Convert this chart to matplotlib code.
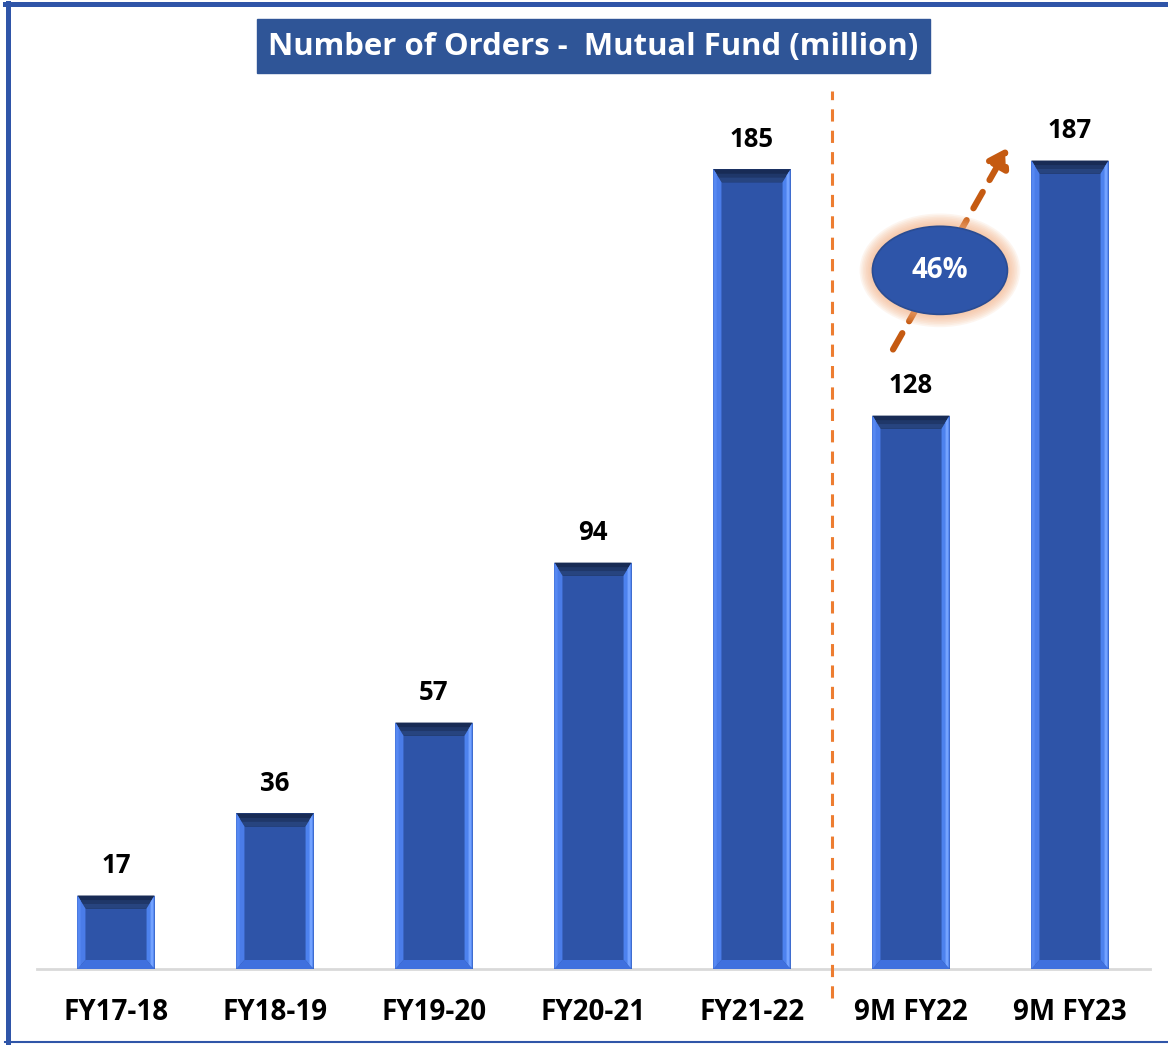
import matplotlib
matplotlib.use("Agg")
import matplotlib.pyplot as plt
from matplotlib.patches import Polygon, Ellipse, Rectangle
from matplotlib.lines import Line2D

categories = ["FY17-18", "FY18-19", "FY19-20", "FY20-21", "FY21-22", "9M FY22", "9M FY23"]
values = [17, 36, 57, 94, 185, 128, 187]
title = "Number of Orders -  Mutual Fund (million)"
growth_label = "46%"

W, H = 1168, 1045
fig = plt.figure(figsize=(W / 100, H / 100), dpi=100)
FONT = ["Open Sans", "DejaVu Sans"]

ax = fig.add_axes([36.5 / W, 76 / H, 1113 / W, 869 / H])
ax.set_xlim(-0.5, len(categories) - 0.5)
ax.set_ylim(0, 201)
ax.axis("off")

face = "#2E54A8"
bars = ax.bar(range(len(values)), values, width=0.485, color=face, edgecolor="none", zorder=2)

# bevel effect, sizes in pixels converted to data units
px_x = 1.0 / 159.0
px_y = 1.0 / 4.32
bx = 8 * px_x
by_top = 13 * px_y
by_bot = 9 * px_y
for b in bars:
    x0 = b.get_x(); x1 = x0 + b.get_width(); h = b.get_height()
    # top bevel (dark, graded)
    ax.add_patch(Polygon([[x0, h], [x1, h], [x1 - bx, h - by_top], [x0 + bx, h - by_top]],
                         closed=True, color="#182B55", lw=0, zorder=3))
    for f, col in [(0.35, "#1F3769"), (0.65, "#27447F")]:
        ax.add_patch(Polygon([[x0 + bx * f, h - by_top * f], [x1 - bx * f, h - by_top * f],
                              [x1 - bx, h - by_top], [x0 + bx, h - by_top]],
                             closed=True, color=col, lw=0, zorder=3))
    # left bevel
    ax.add_patch(Polygon([[x0, h], [x0 + bx, h - by_top], [x0 + bx, by_bot], [x0, 0]],
                         closed=True, color="#4A7CE8", lw=0, zorder=3))
    ax.add_patch(Polygon([[x0, h], [x0 + bx * 0.4, h - by_top * 0.4], [x0 + bx * 0.4, by_bot * 0.4], [x0, 0]],
                         closed=True, color="#5688F2", lw=0, zorder=3))
    # right bevel
    ax.add_patch(Polygon([[x1, h], [x1 - bx, h - by_top], [x1 - bx, by_bot], [x1, 0]],
                         closed=True, color="#4D82EE", lw=0, zorder=3))
    ax.add_patch(Polygon([[x1 - bx * 0.5, h - by_top * 0.5], [x1 - bx * 0.15, h - by_top * 0.15],
                          [x1 - bx * 0.15, by_bot * 0.15], [x1 - bx * 0.5, by_bot * 0.5]],
                         closed=True, color="#74A3FF", lw=0, zorder=3))
    # bottom bevel
    ax.add_patch(Polygon([[x0, 0], [x1, 0], [x1 - bx, by_bot], [x0 + bx, by_bot]],
                         closed=True, color="#3F70DE", lw=0, zorder=3))
    # value label
    ax.text(b.get_x() + b.get_width() / 2, h + 30 * px_y, f"{int(h)}", ha="center", va="center",
            fontsize=18.5, fontweight="bold", family=FONT, color="black", zorder=5)

# baseline
ax.plot([-0.5, len(categories) - 0.5], [0, 0], color="#D9D9D9", lw=2, zorder=1, clip_on=False)

# category labels
for i, c in enumerate(categories):
    ax.text(i, -43 * px_y, c, ha="center", va="center", fontsize=20, fontweight="bold",
            family=FONT, color="black")

# divider dashed line
ax.plot([4.5, 4.5], [-29 * px_y, 877 * px_y], color="#ED7D31", lw=2.2, ls=(0, (4, 3)),
        clip_on=False, zorder=1)

# growth arrow
x_start, y_start = 4.887, 143.3
x_end, y_end = 5.61, 190.0
ax.annotate("", xy=(x_end, y_end), xytext=(x_start, y_start),
            arrowprops=dict(arrowstyle="-|>,head_length=1.1,head_width=0.7", color="#C55A11",
                            lw=4.5, ls=(0, (3, 2.2)), shrinkA=0, shrinkB=0), zorder=4)

# glow ellipse
ecx, ecy = 5.182, 161.6
ew, eh = 135 * px_x, 88 * px_y
for k in range(8, 0, -1):
    ax.add_patch(Ellipse((ecx, ecy), ew + 2 * k * 1.6 * px_x, eh + 2 * k * 1.6 * px_y,
                         color="#F4B183", alpha=0.12, lw=0, zorder=5))
ax.add_patch(Ellipse((ecx, ecy), ew, eh, facecolor="#2E55A9", edgecolor="#2A4C92", lw=1.2, zorder=6))
ax.text(ecx, ecy, growth_label, ha="center", va="center", color="white", fontsize=20,
        fontweight="bold", family=FONT, zorder=7)

# title box
fig.patches.append(Rectangle((257 / W, 1 - 73 / H), (930 - 257) / W, (73 - 19) / H,
                             transform=fig.transFigure, color="#2F5597", zorder=0))
fig.text(593 / W, 1 - 47 / H, title, ha="center", va="center", color="white", fontsize=22.4,
         fontweight="bold", family=FONT)

# frame border
fig.lines.append(Line2D([7.5 / W, 7.5 / W], [1 - 3 / H, 0], transform=fig.transFigure,
                        color="#2F55A8", lw=3.6))
fig.lines.append(Line2D([5 / W, 1], [1 - 3.5 / H, 1 - 3.5 / H], transform=fig.transFigure,
                        color="#2F55A8", lw=3.6))
fig.lines.append(Line2D([5 / W, 1], [1 - 1041.5 / H, 1 - 1041.5 / H], transform=fig.transFigure,
                        color="#2F55A8", lw=1.5))

fig.savefig("out.png", dpi=100, facecolor="white")
